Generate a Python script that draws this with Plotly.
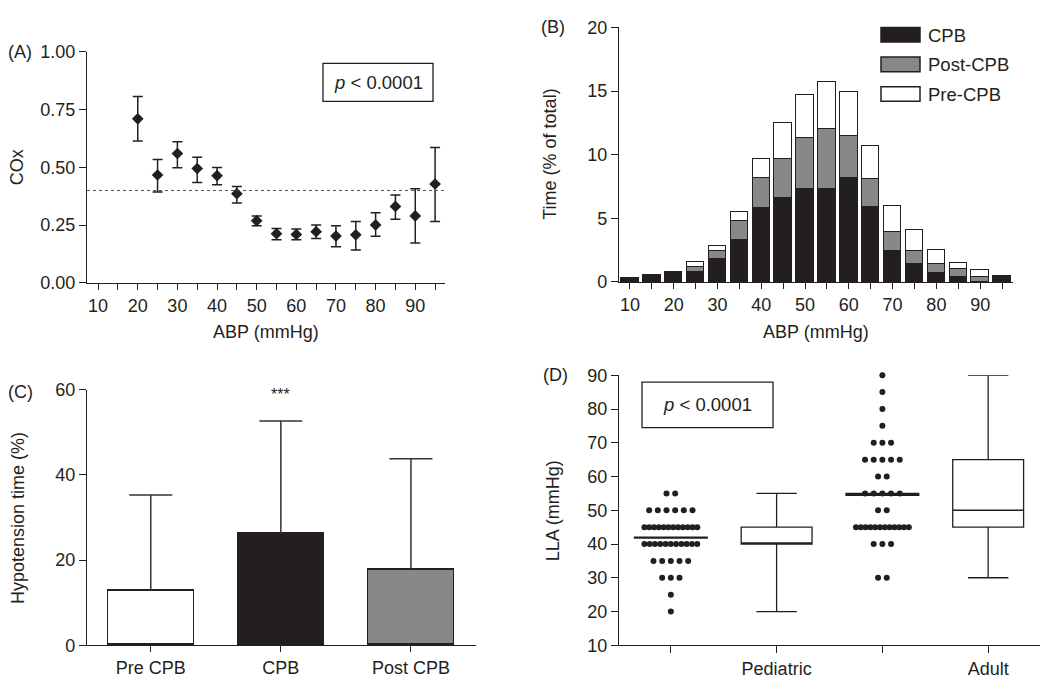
import plotly.graph_objects as go

W, H = 1050, 699
FONT = "Liberation Sans, Arial, sans-serif"
INK = "#231f20"
FS = 18

# ---------------- Data ----------------
# Panel A: COx vs ABP
abp_a = [20, 25, 30, 35, 40, 45, 50, 55, 60, 65, 70, 75, 80, 85, 90, 95]
cox_mean = [0.710, 0.467, 0.560, 0.495, 0.464, 0.386, 0.269, 0.213, 0.210, 0.222, 0.203, 0.208, 0.251, 0.331, 0.290, 0.428]
cox_upper = [0.806, 0.534, 0.611, 0.544, 0.499, 0.417, 0.290, 0.236, 0.233, 0.251, 0.247, 0.266, 0.304, 0.381, 0.407, 0.586]
cox_lower = [0.614, 0.393, 0.498, 0.435, 0.425, 0.346, 0.247, 0.187, 0.187, 0.192, 0.157, 0.143, 0.202, 0.276, 0.173, 0.266]
cox_threshold = 0.40

# Panel B: time distribution by ABP bin
abp_b = [10, 15, 20, 25, 30, 35, 40, 45, 50, 55, 60, 65, 70, 75, 80, 85, 90, 95]
time_cpb = [0.30, 0.48, 0.76, 0.76, 1.78, 3.27, 5.76, 6.60, 7.28, 7.28, 8.12, 5.84, 2.41, 1.40, 0.66, 0.36, None, 0.43]
time_post = [None, None, None, 0.38, 0.63, 1.45, 2.34, 2.99, 3.99, 4.67, 3.28, 2.23, 1.47, 0.96, 0.69, 0.63, 0.38, None]
time_pre = [None, None, None, 0.38, 0.41, 0.76, 1.52, 2.85, 3.40, 3.71, 3.47, 2.56, 2.06, 1.68, 1.14, 0.43, 0.50, None]

# Panel C: hypotension time
phases = ["Pre CPB", "CPB", "Post CPB"]
hypo_mean = [12.8, 26.2, 17.8]
hypo_sd = [22.5, 26.5, 26.0]
phase_colors = ["#ffffff", "#231f20", "#87888a"]

# Panel D: LLA
ped_lla_values = [20, 25, 30, 35, 40, 45, 50, 55]
ped_lla_counts = [1, 1, 3, 5, 11, 12, 6, 2]
ped_lla_mean = 41.9
adult_lla_values = [30, 40, 45, 50, 55, 60, 65, 70, 75, 80, 85, 90]
adult_lla_counts = [2, 3, 12, 2, 5, 2, 5, 3, 1, 1, 1, 1]
adult_lla_mean = 54.7
ped_box = dict(lowerfence=20, q1=40, median=40, q3=45, upperfence=55)
adult_box = dict(lowerfence=30, q1=45, median=50, q3=65, upperfence=90)
d_ticktext = ["", "Pediatric", "", "Adult"]

# ---------------- Helpers ----------------
def px(x):
    return x / W

def py(y):
    return 1 - y / H

fig = go.Figure()

axis_common = dict(
    showline=True, linecolor=INK, linewidth=1.3, mirror=False,
    ticks="outside", tickcolor=INK, tickwidth=1.3, ticklen=6,
    showgrid=False, zeroline=False,
    tickfont=dict(family=FONT, size=FS, color=INK),
    fixedrange=True,
)

# ---------------- Panel A ----------------
fig.add_trace(go.Scatter(
    x=abp_a, y=cox_mean, mode="markers", cliponaxis=False,
    marker=dict(symbol="diamond", size=9, color=INK),
    error_y=dict(type="data", symmetric=False,
                 array=[u - m for u, m in zip(cox_upper, cox_mean)],
                 arrayminus=[m - l for m, l in zip(cox_mean, cox_lower)],
                 color=INK, thickness=1.5, width=5),
    xaxis="x", yaxis="y", showlegend=False, hoverinfo="skip",
))

ab_tickvals = list(range(10, 100, 5))
ab_ticktext = [str(v) if v % 10 == 0 and v < 95 else "" for v in ab_tickvals]

# ---------------- Panel B ----------------
for vals, col in [(time_cpb, INK), (time_post, "#87888a"), (time_pre, "#ffffff")]:
    fig.add_trace(go.Bar(
        x=abp_b, y=vals, width=4,
        marker=dict(color=col, line=dict(color=INK, width=1.5)),
        xaxis="x2", yaxis="y2", showlegend=False, hoverinfo="skip",
    ))

# ---------------- Panel C ----------------
fig.add_trace(go.Bar(
    x=[0, 1, 2], y=hypo_mean, width=0.66,
    marker=dict(color=phase_colors, line=dict(color=INK, width=1.5)),
    xaxis="x3", yaxis="y3", showlegend=False, hoverinfo="skip",
))
# upward-only error bars (stem from bar top + cap)
err_x, err_y = [], []
for i, (m, s) in enumerate(zip(hypo_mean, hypo_sd)):
    err_x += [i, i, None, i - 0.165, i + 0.165, None]
    err_y += [m, m + s, None, m + s, m + s, None]
fig.add_trace(go.Scatter(
    x=err_x, y=err_y, mode="lines", line=dict(color="#333333", width=1.5),
    xaxis="x3", yaxis="y3", showlegend=False, hoverinfo="skip",
))

# ---------------- Panel D ----------------
def dot_positions(center, values, counts, step=0.082, maxw=0.5):
    xs, ys = [], []
    for v, n in zip(values, counts):
        s = step if n <= 1 else min(step, maxw / (n - 1))
        for i in range(n):
            xs.append(center + (i - (n - 1) / 2) * s)
            ys.append(v)
    return xs, ys

for cat, vals, cnts, mean, lw in [(0, ped_lla_values, ped_lla_counts, ped_lla_mean, 2.2),
                                  (2, adult_lla_values, adult_lla_counts, adult_lla_mean, 3.2)]:
    xs, ys = dot_positions(cat, vals, cnts)
    fig.add_trace(go.Scatter(
        x=xs, y=ys, mode="markers", cliponaxis=False,
        marker=dict(size=6, color=INK),
        xaxis="x4", yaxis="y4", showlegend=False, hoverinfo="skip",
    ))
    fig.add_trace(go.Scatter(
        x=[cat - 0.35, cat + 0.35], y=[mean, mean], mode="lines",
        line=dict(color=INK, width=lw),
        xaxis="x4", yaxis="y4", showlegend=False, hoverinfo="skip",
    ))

for cat, b in [(1, ped_box), (3, adult_box)]:
    fig.add_trace(go.Box(
        x=[cat], q1=[b["q1"]], median=[b["median"]], q3=[b["q3"]],
        lowerfence=[b["lowerfence"]], upperfence=[b["upperfence"]],
        width=0.67, whiskerwidth=0.57, boxpoints=False,
        fillcolor="#ffffff", line=dict(color=INK, width=1.3),
        xaxis="x4", yaxis="y4", showlegend=False, hoverinfo="skip",
    ))

# ---------------- Layout ----------------
layout = dict(
    width=W, height=H, margin=dict(l=0, r=0, t=0, b=0),
    paper_bgcolor="white", plot_bgcolor="white",
    barmode="stack", bargap=0, showlegend=False,
    font=dict(family=FONT, size=FS, color=INK),
    xaxis=dict(axis_common, domain=[px(87), px(445)], range=[7.2, 97.5],
               tickvals=ab_tickvals, ticktext=ab_ticktext, anchor="y"),
    yaxis=dict(axis_common, domain=[py(281), py(43)], range=[0, 1.0],
               tickvals=[0, 0.25, 0.5, 0.75, 1.0], tickformat=".2f", anchor="x", ticklen=7),
    xaxis2=dict(axis_common, domain=[px(619), px(1013)], range=[7.5, 97.5],
                tickvals=ab_tickvals, ticktext=ab_ticktext, anchor="y2"),
    yaxis2=dict(axis_common, domain=[py(280), py(18)], range=[0, 20],
                tickvals=[0, 5, 10, 15, 20], anchor="x2", ticklen=7),
    xaxis3=dict(axis_common, domain=[px(87), px(476)], range=[-0.49, 2.5],
                tickvals=[0, 1, 2], ticktext=phases, anchor="y3"),
    yaxis3=dict(axis_common, domain=[py(654), py(391)], range=[0, 60],
                tickvals=[0, 20, 40, 60], anchor="x3", ticklen=7),
    xaxis4=dict(axis_common, domain=[px(619), px(1040)], range=[-0.49, 3.49],
                tickvals=[0, 1, 2, 3], ticktext=d_ticktext, anchor="y4", ticklen=7),
    yaxis4=dict(axis_common, domain=[py(654), py(376)], range=[10, 90],
                tickvals=list(range(10, 100, 10)), anchor="x4", ticklen=7),
)
fig.update_layout(**layout)

shapes = [
    # threshold line in panel A
    dict(type="line", xref="x domain", yref="y", x0=0, x1=1, y0=cox_threshold, y1=cox_threshold,
         line=dict(color="#555555", width=1.2, dash="dot")),
    # p-value boxes
    dict(type="rect", xref="paper", yref="paper", x0=px(323), x1=px(433), y0=py(94), y1=py(55),
         line=dict(color=INK, width=1.3), fillcolor="white", layer="below"),
    dict(type="rect", xref="paper", yref="paper", x0=px(642), x1=px(773), y0=py(430), y1=py(383),
         line=dict(color=INK, width=1.3), fillcolor="white", layer="below"),
]

annotations = []
def ann(text, x, y, size=FS, angle=0, xanchor="center", yanchor="middle"):
    annotations.append(dict(text=text, x=px(x), y=py(y), xref="paper", yref="paper",
                            showarrow=False, textangle=angle, xanchor=xanchor, yanchor=yanchor,
                            font=dict(family=FONT, size=size, color=INK)))

# legend for panel B
legend_items = [("CPB", INK), ("Post-CPB", "#87888a"), ("Pre-CPB", "#ffffff")]
for i, (name, col) in enumerate(legend_items):
    top = 18 + i * 30.5
    shapes.append(dict(type="rect", xref="paper", yref="paper", x0=px(881), x1=px(920),
                       y0=py(top + 15), y1=py(top), line=dict(color=INK, width=1.5), fillcolor=col))
    ann(name, 926, top + 8, size=18.5, xanchor="left")

ann("(A)", 20, 43)
ann("(B)", 553, 18)
ann("(C)", 20, 393)
ann("(D)", 555, 376)

ann("COx", 17, 162, angle=-90)
ann("Time (% of total)", 550, 149, angle=-90)
ann("Hypotension time (%)", 18, 523, angle=-90)
ann("LLA (mmHg)", 553, 516, angle=-90)

ann("ABP (mmHg)", 266, 331)
ann("ABP (mmHg)", 816, 331)

ann("<i>p</i> < 0.0001", 378, 74.5, size=18.5)
ann("<i>p</i> < 0.0001", 707.5, 406.5, size=18.5)

annotations.append(dict(text="***", x=1, y=58.8, xref="x3", yref="y3", showarrow=False,
                        font=dict(family=FONT, size=16, color=INK)))

fig.update_layout(shapes=shapes, annotations=annotations)

fig.write_html("out.html", config={"displayModeBar": False},
               post_script="document.body.style.margin='0';document.body.style.overflow='hidden';")
